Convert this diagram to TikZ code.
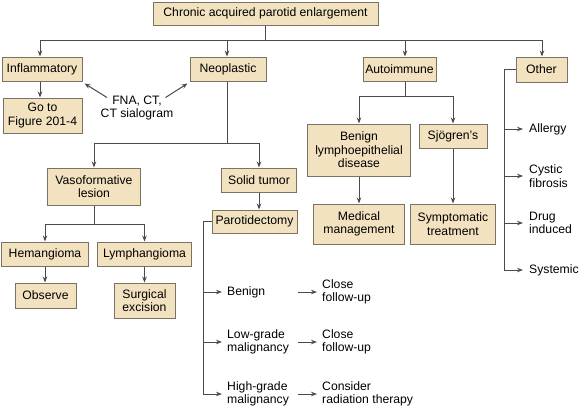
\documentclass[tikz,border=0pt]{standalone}
\usepackage{fontspec}
\setmainfont{Liberation Sans}
\usetikzlibrary{arrows.meta,calc}
\definecolor{boxfill}{HTML}{F2E2C0}
\definecolor{boxline}{HTML}{7A7262}
\definecolor{linecol}{HTML}{4A4A4A}
\begin{document}
\begin{tikzpicture}[x=1pt,y=-1pt,
  font=\fontsize{12.2}{13.5}\selectfont,
  box/.style={draw=boxline, fill=boxfill, line width=1pt, inner sep=0pt, align=center},
  sz/.style 2 args={minimum width=#1pt, minimum height=#2pt},
  conn/.style={draw=linecol, line width=1pt},
  arr/.style={conn, -{Stealth[length=6pt,width=4.5pt]}},
  lbl/.style={inner sep=0pt, align=left, anchor=west}]
\useasboundingbox (0,0) rectangle (579,408);

% boxes
\node[box, sz={225}{23}] (top) at (265.5,13.5) {Chronic acquired parotid enlargement};
\node[box, sz={80}{24}] (infl) at (42,69) {Inflammatory};
\node[box, sz={76}{24}] (neo) at (228,69) {Neoplastic};
\node[box, sz={73}{24}] (auto) at (399.5,69) {Autoimmune};
\node[box, sz={51}{25}] (other) at (541.5,69.5) {Other};
\node[box, sz={79}{35}] (goto) at (42.5,115.5) {Go to\\Figure 201-4};
\node[inner sep=0pt, align=center] (fna) at (137,108) {FNA, CT,\\CT sialogram};
\node[box, sz={93}{37}] (vaso) at (94,186.5) {Vasoformative\\lesion};
\node[box, sz={75}{24}] (solid) at (259,180) {Solid tumor};
\node[box, sz={85}{23}] (parot) at (254.5,221.5) {Parotidectomy};
\node[box, sz={87}{24}] (hem) at (45,254) {Hemangioma};
\node[box, sz={94}{24}] (lym) at (144.5,254) {Lymphangioma};
\node[box, sz={61}{25}] (obs) at (45.5,295.5) {Observe};
\node[box, sz={61}{35}] (surg) at (144.5,300.5) {Surgical\\excision};
\node[box, sz={103}{52}] (blep) at (359,150) {Benign\\lymphoepithelial\\disease};
\node[box, sz={68}{24}] (sjo) at (453,136) {Sjögren’s};
\node[box, sz={91}{40}] (med) at (359,224) {Medical\\management};
\node[box, sz={85}{40}] (sym) at (453,224) {Symptomatic\\treatment};

% labels
\node[lbl] (ben) at (227,292) {Benign};
\node[lbl] (low) at (227,342) {Low-grade\\malignancy};
\node[lbl] (high) at (227,394) {High-grade\\malignancy};
\node[lbl] (cf1) at (322,292) {Close\\follow-up};
\node[lbl] (cf2) at (322,342) {Close\\follow-up};
\node[lbl] (crt) at (322,394) {Consider\\radiation therapy};
\node[lbl] (all) at (529,129) {Allergy};
\node[lbl] (cys) at (529,176) {Cystic\\fibrosis};
\node[lbl] (drug) at (529,223) {Drug\\induced};
\node[lbl] (sys) at (529,270) {Systemic};

% helper coordinates
\coordinate (barL) at (40,40);
\coordinate (barR) at (542,40);
\coordinate (bN) at (227,40);
\coordinate (bA) at (405,40);
\coordinate (nB) at (227,143);
\coordinate (vB) at (94,224);
\coordinate (aB) at (405,96);
\coordinate (pX) at (203,0);
\coordinate (oX) at (504,0);

% top level
\draw[conn] (top.south) -- (top.south |- barL);
\draw[conn] (barL) -- (barR);
\draw[arr] (barL) -- (barL |- infl.north);
\draw[arr] (bN) -- (bN |- neo.north);
\draw[arr] (bA) -- (bA |- auto.north);
\draw[arr] (barR) -- (barR |- other.north);

% inflammatory
\draw[arr] (barL |- infl.south) -- (barL |- goto.north);
\draw[arr] ($(fna.north west)+(6.5,2)$) -- ([shift={(2,2)}]infl.south east);
\draw[arr] ($(fna.north east)+(-8,2)$) -- ([shift={(-2,2)}]neo.south west);

% neoplastic
\draw[conn] (nB |- neo.south) -- (nB);
\draw[conn] (vaso.north |- nB) -- (solid.north |- nB);
\draw[arr] (vaso.north |- nB) -- (vaso.north);
\draw[arr] (solid.north |- nB) -- (solid.north);
\draw[arr] (solid.south) -- (solid.south |- parot.north);
\draw[conn] (vaso.south) -- (vB);
\draw[conn] (hem.north |- vB) -- (lym.north |- vB);
\draw[arr] (hem.north |- vB) -- (hem.north);
\draw[arr] (lym.north |- vB) -- (lym.north);
\draw[arr] (hem.south) -- (hem.south |- obs.north);
\draw[arr] (lym.south) -- (lym.south |- surg.north);

% parotidectomy bracket
\draw[arr] (parot.west) -- (parot.west -| pX) -- (high.west -| pX) -- ([xshift=-5pt]high.west);
\draw[arr] (ben.west -| pX) -- ([xshift=-5pt]ben.west);
\draw[arr] (low.west -| pX) -- ([xshift=-5pt]low.west);
\draw[arr] ([xshift=-24pt]cf1.west) -- ([xshift=-5pt]cf1.west);
\draw[arr] ([xshift=-24pt]cf2.west) -- ([xshift=-5pt]cf2.west);
\draw[arr] ([xshift=-24pt]crt.west) -- ([xshift=-5pt]crt.west);

% autoimmune
\draw[conn] (aB |- auto.south) -- (aB);
\draw[conn] (blep.north |- aB) -- (sjo.north |- aB);
\draw[arr] (blep.north |- aB) -- (blep.north);
\draw[arr] (sjo.north |- aB) -- (sjo.north);
\draw[arr] (blep.south) -- (med.north);
\draw[arr] (sjo.south) -- (sjo.south |- sym.north);

% other bracket
\draw[arr] (other.west) -- (other.west -| oX) -- (sys.west -| oX) -- ([xshift=-6pt]sys.west);
\draw[arr] (all.west -| oX) -- ([xshift=-6pt]all.west);
\draw[arr] (cys.west -| oX) -- ([xshift=-6pt]cys.west);
\draw[arr] (drug.west -| oX) -- ([xshift=-6pt]drug.west);
\end{tikzpicture}
\end{document}
